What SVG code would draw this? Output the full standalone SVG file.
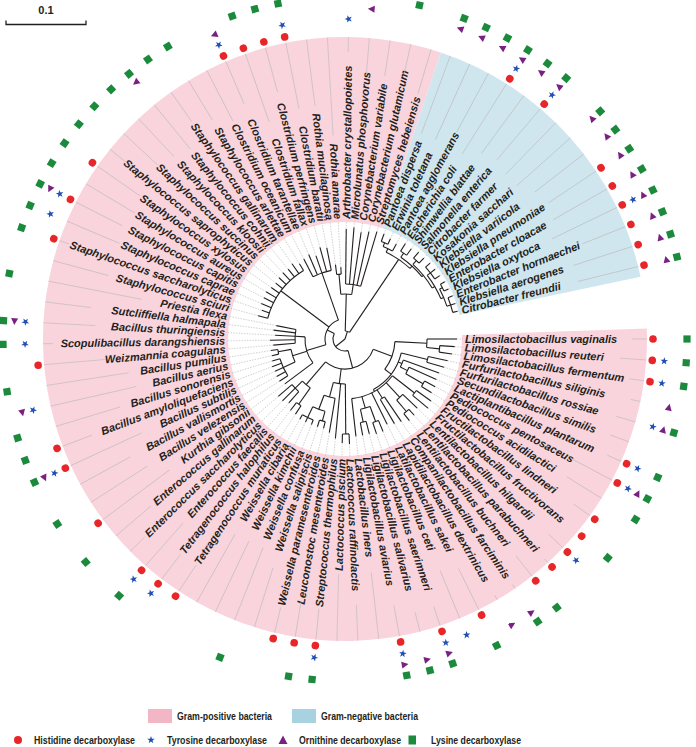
<svg xmlns="http://www.w3.org/2000/svg" width="696" height="747" viewBox="0 0 696 747">
<style>
.lb{font-family:"Liberation Sans",Arial,sans-serif;font-size:11px;font-weight:bold;font-style:italic;fill:#231f20}
.f{text-anchor:end}
.o{stroke:#b9b9b9;stroke-width:0.6}
.d{stroke:#a8a8a8;stroke-width:0.5;stroke-dasharray:1.5 1.2}
.t line,.t circle{stroke:#231f20;stroke-width:1.1;fill:none}
.lg{font-family:"Liberation Sans",Arial,sans-serif;font-size:10.5px;font-weight:bold;fill:#231f20}
</style>
<defs>
<circle id="H" r="3.8" fill="#e8262a"/>
<path id="T" d="M0,-4L0.94,-1.29L3.8,-1.24L1.52,0.49L2.35,3.24L0,1.6L-2.35,3.24L-1.52,0.49L-3.8,-1.24L-0.94,-1.29Z" fill="#1f4fb4"/>
<path id="O" d="M0,-3.8L3.5,3L-3.5,3Z" fill="#7a2082"/>
<rect id="L" x="-3.6" y="-3.6" width="7.2" height="7.2" fill="#1b8a3c"/>
</defs>
<rect width="696" height="747" fill="#fff"/>
<g transform="translate(345,339)">
<path id="gram-pos" d="M301.8,-10.5A302 302 0 1 1 95.8,-286.4L37.1,-111A117 117 0 1 0 116.9,-4.1Z" fill="#f9d4dc"/>
<path id="gram-neg" d="M95.8,-286.4A302 302 0 0 1 295.5,-62.3L114.5,-24.1A117 117 0 0 0 37.1,-111Z" fill="#d0e6ee"/>
<g id="connectors" class="t">
<line x2="12" transform="rotate(141.1)"/>
<circle r="12" pathLength="360" stroke-dasharray="131.71 360" transform="rotate(75.25)"/>
<line x1="12" x2="30" transform="rotate(75.25)"/>
<circle r="30" pathLength="360" stroke-dasharray="110.2 360" transform="rotate(20.15)"/>
<line x1="30" x2="50" transform="rotate(20.15)"/>
<circle r="50" pathLength="360" stroke-dasharray="34.33 360" transform="rotate(2.985)"/>
<line x1="50" x2="82" transform="rotate(2.985)"/>
<circle r="82" pathLength="360" stroke-dasharray="5.97 360"/>
<line x1="82" x2="112"/>
<line x1="82" x2="95" transform="rotate(5.97)"/>
<circle r="95" pathLength="360" stroke-dasharray="3.98 360" transform="rotate(3.98)"/>
<line x1="95" x2="110" transform="rotate(3.98)"/>
<line x1="95" x2="108" transform="rotate(7.96)"/>
<line x1="50" x2="58" transform="rotate(37.31)"/>
<circle r="58" pathLength="360" stroke-dasharray="46.77 360" transform="rotate(13.93)"/>
<line x1="58" x2="85" transform="rotate(13.93)"/>
<circle r="85" pathLength="360" stroke-dasharray="3.98 360" transform="rotate(11.94)"/>
<line x1="85" x2="105" transform="rotate(11.94)"/>
<line x1="85" x2="103" transform="rotate(15.92)"/>
<line x1="58" x2="62" transform="rotate(23.38)"/>
<circle r="62" pathLength="360" stroke-dasharray="6.97 360" transform="rotate(19.9)"/>
<line x1="62" x2="100" transform="rotate(19.9)"/>
<line x1="62" x2="70" transform="rotate(26.865)"/>
<circle r="70" pathLength="360" stroke-dasharray="5.97 360" transform="rotate(23.88)"/>
<line x1="70" x2="100" transform="rotate(23.88)"/>
<line x1="70" x2="90" transform="rotate(29.85)"/>
<circle r="90" pathLength="360" stroke-dasharray="3.98 360" transform="rotate(27.86)"/>
<line x1="90" x2="102" transform="rotate(27.86)"/>
<line x1="90" x2="102" transform="rotate(31.84)"/>
<line x1="58" x2="60" transform="rotate(60.695)"/>
<circle r="60" pathLength="360" stroke-dasharray="45.77 360" transform="rotate(37.81)"/>
<line x1="60" x2="88" transform="rotate(37.81)"/>
<circle r="88" pathLength="360" stroke-dasharray="3.98 360" transform="rotate(35.82)"/>
<line x1="88" x2="106" transform="rotate(35.82)"/>
<line x1="88" x2="108" transform="rotate(39.8)"/>
<line x1="60" x2="80" transform="rotate(46.765)"/>
<circle r="80" pathLength="360" stroke-dasharray="5.97 360" transform="rotate(43.78)"/>
<line x1="80" x2="100" transform="rotate(43.78)"/>
<line x1="80" x2="95" transform="rotate(49.75)"/>
<circle r="95" pathLength="360" stroke-dasharray="3.98 360" transform="rotate(47.76)"/>
<line x1="95" x2="103" transform="rotate(47.76)"/>
<line x1="95" x2="104" transform="rotate(51.74)"/>
<line x1="60" x2="70" transform="rotate(57.71)"/>
<circle r="70" pathLength="360" stroke-dasharray="3.98 360" transform="rotate(55.72)"/>
<line x1="70" x2="100" transform="rotate(55.72)"/>
<line x1="70" x2="98" transform="rotate(59.7)"/>
<line x1="60" x2="95" transform="rotate(63.68)"/>
<line x1="60" x2="72" transform="rotate(73.63)"/>
<circle r="72" pathLength="360" stroke-dasharray="7.96 360" transform="rotate(69.65)"/>
<line x1="72" x2="88" transform="rotate(69.65)"/>
<circle r="88" pathLength="360" stroke-dasharray="3.98 360" transform="rotate(67.66)"/>
<line x1="88" x2="100" transform="rotate(67.66)"/>
<line x1="88" x2="100" transform="rotate(71.64)"/>
<line x1="72" x2="85" transform="rotate(77.61)"/>
<circle r="85" pathLength="360" stroke-dasharray="3.98 360" transform="rotate(75.62)"/>
<line x1="85" x2="98" transform="rotate(75.62)"/>
<line x1="85" x2="98" transform="rotate(79.6)"/>
<line x1="60" x2="98" transform="rotate(83.58)"/>
<line x1="30" x2="45" transform="rotate(97.26)"/>
<circle r="45" pathLength="360" stroke-dasharray="15.42 360" transform="rotate(89.55)"/>
<line x1="45" x2="95" transform="rotate(89.55)"/>
<circle r="95" pathLength="360" stroke-dasharray="3.98 360" transform="rotate(87.56)"/>
<line x1="95" x2="105" transform="rotate(87.56)"/>
<line x1="95" x2="104" transform="rotate(91.54)"/>
<line x1="45" x2="100" transform="rotate(95.52)"/>
<line x1="45" x2="60" transform="rotate(104.97)"/>
<circle r="60" pathLength="360" stroke-dasharray="10.95 360" transform="rotate(99.5)"/>
<line x1="60" x2="95" transform="rotate(99.5)"/>
<line x1="60" x2="75" transform="rotate(110.445)"/>
<circle r="75" pathLength="360" stroke-dasharray="9.95 360" transform="rotate(105.47)"/>
<line x1="75" x2="85" transform="rotate(105.47)"/>
<circle r="85" pathLength="360" stroke-dasharray="3.98 360" transform="rotate(103.48)"/>
<line x1="85" x2="92" transform="rotate(103.48)"/>
<line x1="85" x2="92" transform="rotate(107.46)"/>
<line x1="75" x2="87" transform="rotate(115.42)"/>
<circle r="87" pathLength="360" stroke-dasharray="7.96 360" transform="rotate(111.44)"/>
<line x1="87" x2="92" transform="rotate(111.44)"/>
<line x1="87" x2="92" transform="rotate(115.42)"/>
<line x1="87" x2="92" transform="rotate(119.4)"/>
<line x1="30" x2="60" transform="rotate(130.345)"/>
<circle r="60" pathLength="360" stroke-dasharray="9.95 360" transform="rotate(125.37)"/>
<line x1="60" x2="80" transform="rotate(125.37)"/>
<circle r="80" pathLength="360" stroke-dasharray="3.98 360" transform="rotate(123.38)"/>
<line x1="80" x2="90" transform="rotate(123.38)"/>
<line x1="80" x2="90" transform="rotate(127.36)"/>
<line x1="60" x2="70" transform="rotate(135.32)"/>
<circle r="70" pathLength="360" stroke-dasharray="7.96 360" transform="rotate(131.34)"/>
<line x1="70" x2="85" transform="rotate(131.34)"/>
<line x1="70" x2="88" transform="rotate(135.32)"/>
<line x1="70" x2="88" transform="rotate(139.3)"/>
<line x1="12" x2="20" transform="rotate(206.96)"/>
<circle r="20" pathLength="360" stroke-dasharray="87.56 360" transform="rotate(163.18)"/>
<line x1="20" x2="40" transform="rotate(163.18)"/>
<circle r="40" pathLength="360" stroke-dasharray="39.8 360" transform="rotate(143.28)"/>
<line x1="40" x2="75" transform="rotate(143.28)"/>
<line x1="40" x2="55" transform="rotate(162.185)"/>
<circle r="55" pathLength="360" stroke-dasharray="13.93 360" transform="rotate(155.22)"/>
<line x1="55" x2="68" transform="rotate(155.22)"/>
<circle r="68" pathLength="360" stroke-dasharray="15.92 360" transform="rotate(147.26)"/>
<line x1="68" x2="78" transform="rotate(147.26)"/>
<line x1="68" x2="78" transform="rotate(151.24)"/>
<line x1="68" x2="77" transform="rotate(155.22)"/>
<line x1="68" x2="78" transform="rotate(159.2)"/>
<line x1="68" x2="76" transform="rotate(163.18)"/>
<line x1="55" x2="68" transform="rotate(169.15)"/>
<circle r="68" pathLength="360" stroke-dasharray="3.98 360" transform="rotate(167.16)"/>
<line x1="68" x2="75" transform="rotate(167.16)"/>
<line x1="68" x2="75" transform="rotate(171.14)"/>
<line x1="40" x2="50" transform="rotate(183.08)"/>
<circle r="50" pathLength="360" stroke-dasharray="15.92 360" transform="rotate(175.12)"/>
<line x1="50" x2="72" transform="rotate(175.12)"/>
<line x1="50" x2="75" transform="rotate(179.1)"/>
<line x1="50" x2="70" transform="rotate(183.08)"/>
<line x1="50" x2="72" transform="rotate(187.06)"/>
<line x1="50" x2="70" transform="rotate(191.04)"/>
<line x1="20" x2="80" transform="rotate(216.91)"/>
<circle r="80" pathLength="360" stroke-dasharray="43.78 360" transform="rotate(195.02)"/>
<line x1="80" x2="90" transform="rotate(195.02)"/>
<line x1="80" x2="88" transform="rotate(199)"/>
<line x1="80" x2="91" transform="rotate(202.98)"/>
<line x1="80" x2="91" transform="rotate(206.96)"/>
<line x1="80" x2="92" transform="rotate(210.94)"/>
<line x1="80" x2="90" transform="rotate(214.92)"/>
<line x1="80" x2="89" transform="rotate(218.9)"/>
<line x1="80" x2="90" transform="rotate(222.88)"/>
<line x1="80" x2="91" transform="rotate(226.86)"/>
<line x1="80" x2="90" transform="rotate(230.84)"/>
<line x1="80" x2="92" transform="rotate(234.82)"/>
<line x1="80" x2="88" transform="rotate(238.8)"/>
<line x1="20" x2="70" transform="rotate(250.74)"/>
<circle r="70" pathLength="360" stroke-dasharray="15.92 360" transform="rotate(242.78)"/>
<line x1="70" x2="90" transform="rotate(242.78)"/>
<line x1="70" x2="92" transform="rotate(246.76)"/>
<line x1="70" x2="88" transform="rotate(250.74)"/>
<line x1="70" x2="95" transform="rotate(254.72)"/>
<line x1="70" x2="93" transform="rotate(258.7)"/>
<line x2="8" transform="rotate(287.83)"/>
<circle r="8" pathLength="360" stroke-dasharray="32.39 360" transform="rotate(271.635)"/>
<line x1="8" x2="45" transform="rotate(271.635)"/>
<circle r="45" pathLength="360" stroke-dasharray="13.93 360" transform="rotate(264.67)"/>
<line x1="45" x2="65" transform="rotate(264.67)"/>
<circle r="65" pathLength="360" stroke-dasharray="3.98 360" transform="rotate(262.68)"/>
<line x1="65" x2="75" transform="rotate(262.68)"/>
<line x1="65" x2="72" transform="rotate(266.66)"/>
<line x1="45" x2="55" transform="rotate(278.6)"/>
<circle r="55" pathLength="360" stroke-dasharray="15.92 360" transform="rotate(270.64)"/>
<line x1="55" x2="110" transform="rotate(270.64)"/>
<line x1="55" x2="112" transform="rotate(274.62)"/>
<line x1="55" x2="108" transform="rotate(278.6)"/>
<line x1="55" x2="110" transform="rotate(282.58)"/>
<line x1="55" x2="112" transform="rotate(286.56)"/>
<line x1="8" x2="96" transform="rotate(304.02)"/>
<circle r="96" pathLength="360" stroke-dasharray="17.29 360" transform="rotate(295.375)"/>
<line x1="96" x2="100" transform="rotate(295.375)"/>
<circle r="100" pathLength="360" stroke-dasharray="5.97 360" transform="rotate(292.39)"/>
<line x1="100" x2="104" transform="rotate(292.39)"/>
<circle r="104" pathLength="360" stroke-dasharray="3.98 360" transform="rotate(290.4)"/>
<line x1="104" x2="112" transform="rotate(290.4)"/>
<line x1="104" x2="110" transform="rotate(294.38)"/>
<line x1="100" x2="108" transform="rotate(298.36)"/>
<line x1="96" x2="99" transform="rotate(312.66)"/>
<circle r="99" pathLength="360" stroke-dasharray="16.67 360" transform="rotate(304.33)"/>
<line x1="99" x2="104" transform="rotate(304.33)"/>
<circle r="104" pathLength="360" stroke-dasharray="3.98 360" transform="rotate(302.34)"/>
<line x1="104" x2="113" transform="rotate(302.34)"/>
<line x1="104" x2="112" transform="rotate(306.32)"/>
<line x1="99" x2="101" transform="rotate(320.995)"/>
<circle r="101" pathLength="360" stroke-dasharray="17.41 360" transform="rotate(312.29)"/>
<line x1="101" x2="106" transform="rotate(312.29)"/>
<circle r="106" pathLength="360" stroke-dasharray="3.98 360" transform="rotate(310.3)"/>
<line x1="106" x2="114" transform="rotate(310.3)"/>
<line x1="106" x2="113" transform="rotate(314.28)"/>
<line x1="101" x2="104" transform="rotate(329.7)"/>
<circle r="104" pathLength="360" stroke-dasharray="14.93 360" transform="rotate(322.24)"/>
<line x1="104" x2="108" transform="rotate(322.24)"/>
<circle r="108" pathLength="360" stroke-dasharray="7.96 360" transform="rotate(318.26)"/>
<line x1="108" x2="114" transform="rotate(318.26)"/>
<line x1="108" x2="114" transform="rotate(322.24)"/>
<line x1="108" x2="114" transform="rotate(326.22)"/>
<line x1="104" x2="107" transform="rotate(337.165)"/>
<circle r="107" pathLength="360" stroke-dasharray="9.95 360" transform="rotate(332.19)"/>
<line x1="107" x2="110" transform="rotate(332.19)"/>
<circle r="110" pathLength="360" stroke-dasharray="3.98 360" transform="rotate(330.2)"/>
<line x1="110" x2="115" transform="rotate(330.2)"/>
<line x1="110" x2="115" transform="rotate(334.18)"/>
<line x1="107" x2="111" transform="rotate(342.14)"/>
<circle r="111" pathLength="360" stroke-dasharray="7.96 360" transform="rotate(338.16)"/>
<line x1="111" x2="116" transform="rotate(338.16)"/>
<line x1="111" x2="116" transform="rotate(342.14)"/>
<line x1="111" x2="116" transform="rotate(346.12)"/>
</g>
<g id="p0" transform="rotate(0)"><line class="d" x1="112" x2="118"/><text class="lb" x="120" dy=".35em">Limosilactobacillus vaginalis</text><line class="o" x1="287" x2="302"/><use href="#H" x="308"/><use href="#L" x="342"/></g>
<g id="p1" transform="rotate(3.98)"><line class="d" x1="110" x2="118"/><text class="lb" x="120" dy=".35em">Limosilactobacillus reuteri</text><line class="o" x1="276" x2="302"/><use href="#H" x="308"/><use href="#T" x="320"/><use href="#L" x="342"/></g>
<g id="p2" transform="rotate(7.96)"><line class="d" x1="108" x2="118"/><text class="lb" x="120" dy=".35em">Limosilactobacillus fermentum</text><line class="o" x1="287" x2="302"/><use href="#H" x="308"/><use href="#T" x="320"/><use href="#L" x="342"/></g>
<g id="p3" transform="rotate(11.94)"><line class="d" x1="105" x2="118"/><text class="lb" x="120" dy=".35em">Furfurilactobacillus siliginis</text><line class="o" x1="292" x2="302"/><use href="#O" x="331"/></g>
<g id="p4" transform="rotate(15.92)"><line class="d" x1="103" x2="118"/><text class="lb" x="120" dy=".35em">Furfurilactobacillus rossiae</text><line class="o" x1="282" x2="302"/><use href="#T" x="320"/><use href="#O" x="331"/><use href="#L" x="342"/></g>
<g id="p5" transform="rotate(19.9)"><line class="d" x1="100" x2="118"/><text class="lb" x="120" dy=".35em">Secundilactobacillus similis</text><line class="o" x1="282" x2="302"/></g>
<g id="p6" transform="rotate(23.88)"><line class="d" x1="100" x2="118"/><text class="lb" x="120" dy=".35em">Lactiplantibacillus plantarum</text><line class="o" x1="287" x2="302"/><use href="#H" x="308"/><use href="#T" x="320"/><use href="#L" x="342"/></g>
<g id="p7" transform="rotate(27.86)"><line class="d" x1="102" x2="118"/><text class="lb" x="120" dy=".35em">Pediococcus pentosaceus</text><line class="o" x1="256" x2="302"/><use href="#H" x="308"/><use href="#T" x="320"/><use href="#O" x="331"/><use href="#L" x="342"/></g>
<g id="p8" transform="rotate(31.84)"><line class="d" x1="102" x2="118"/><text class="lb" x="120" dy=".35em">Pediococcus acidilactici</text><line class="o" x1="261" x2="302"/><use href="#L" x="342"/></g>
<g id="p9" transform="rotate(35.82)"><line class="d" x1="106" x2="118"/><text class="lb" x="120" dy=".35em">Fructilactobacillus lindneri</text><line class="o" x1="282" x2="302"/><use href="#H" x="308"/></g>
<g id="p10" transform="rotate(39.8)"><line class="d" x1="108" x2="118"/><text class="lb" x="120" dy=".35em">Fructilactobacillus fructivorans</text><use href="#H" x="308"/><use href="#L" x="342"/></g>
<g id="p11" transform="rotate(43.78)"><line class="d" x1="100" x2="118"/><text class="lb" x="120" dy=".35em">Lentilactobacillus hilgardii</text><line class="o" x1="282" x2="302"/><use href="#H" x="308"/><use href="#T" x="320"/></g>
<g id="p12" transform="rotate(47.76)"><line class="d" x1="103" x2="118"/><text class="lb" x="120" dy=".35em">Lentilactobacillus parabuchneri</text><line class="o" x1="297" x2="302"/><use href="#H" x="308"/></g>
<g id="p13" transform="rotate(51.74)"><line class="d" x1="104" x2="118"/><text class="lb" x="120" dy=".35em">Lentilactobacillus buchneri</text><line class="o" x1="276" x2="302"/><use href="#H" x="308"/><use href="#L" x="342"/></g>
<g id="p14" transform="rotate(55.72)"><line class="d" x1="100" x2="118"/><text class="lb" x="120" dy=".35em">Companilactobacillus farciminis</text><line class="o" x1="297" x2="302"/><use href="#O" x="331"/><use href="#L" x="342"/></g>
<g id="p15" transform="rotate(59.7)"><line class="d" x1="98" x2="118"/><text class="lb" x="120" dy=".35em">Lapidilactobacillus dextrinicus</text><line class="o" x1="297" x2="302"/><use href="#O" x="331"/></g>
<g id="p16" transform="rotate(63.68)"><line class="d" x1="95" x2="118"/><text class="lb" x="120" dy=".35em">Latilactobacillus sakei</text><line class="o" x1="256" x2="302"/><use href="#H" x="308"/><use href="#L" x="342"/></g>
<g id="p17" transform="rotate(67.66)"><line class="d" x1="100" x2="118"/><text class="lb" x="120" dy=".35em">Ligilactobacillus ceti</text><line class="o" x1="250" x2="302"/><use href="#T" x="320"/></g>
<g id="p18" transform="rotate(71.64)"><line class="d" x1="100" x2="118"/><text class="lb" x="120" dy=".35em">Ligilactobacillus saerimneri</text><line class="o" x1="282" x2="302"/><use href="#H" x="308"/><use href="#T" x="320"/><use href="#O" x="331"/><use href="#L" x="342"/></g>
<g id="p19" transform="rotate(75.62)"><line class="d" x1="98" x2="118"/><text class="lb" x="120" dy=".35em">Ligilactobacillus salivarius</text><line class="o" x1="282" x2="302"/><use href="#O" x="331"/><use href="#L" x="342"/></g>
<g id="p20" transform="rotate(79.6)"><line class="d" x1="98" x2="118"/><text class="lb" x="120" dy=".35em">Ligilactobacillus aviarius</text><line class="o" x1="271" x2="302"/><use href="#H" x="308"/><use href="#T" x="320"/><use href="#O" x="331"/><use href="#L" x="342"/></g>
<g id="p21" transform="rotate(83.58)"><line class="d" x1="98" x2="118"/><text class="lb" x="120" dy=".35em">Lactobacillus iners</text><line class="o" x1="235" x2="302"/></g>
<g id="p22" transform="rotate(87.56)"><line class="d" x1="105" x2="118"/><text class="lb" x="120" dy=".35em">Lactococcus raffinolactis</text><line class="o" x1="266" x2="302"/></g>
<g id="p23" transform="rotate(91.54)"><line class="d" x1="104" x2="118"/><text class="lb f" transform="rotate(180)" x="-120" dy=".35em">Lactococcus piscium</text><line class="o" x1="235" x2="302"/></g>
<g id="p24" transform="rotate(95.52)"><line class="d" x1="100" x2="118"/><text class="lb f" transform="rotate(180)" x="-120" dy=".35em">Streptococcus thermophilus</text><line class="o" x1="271" x2="302"/><use href="#H" x="308"/><use href="#T" x="320"/><use href="#L" x="342"/></g>
<g id="p25" transform="rotate(99.5)"><line class="d" x1="95" x2="118"/><text class="lb f" transform="rotate(180)" x="-120" dy=".35em">Leuconostoc mesenteroides</text><line class="o" x1="266" x2="302"/><use href="#H" x="308"/><use href="#L" x="342"/></g>
<g id="p26" transform="rotate(103.48)"><line class="d" x1="92" x2="118"/><text class="lb f" transform="rotate(180)" x="-120" dy=".35em">Weissella paramesenteroides</text><line class="o" x1="276" x2="302"/><use href="#H" x="308"/></g>
<g id="p27" transform="rotate(107.46)"><line class="d" x1="92" x2="118"/><text class="lb f" transform="rotate(180)" x="-120" dy=".35em">Weissella salipiscis</text><line class="o" x1="240" x2="302"/></g>
<g id="p28" transform="rotate(111.44)"><line class="d" x1="92" x2="118"/><text class="lb f" transform="rotate(180)" x="-120" dy=".35em">Weissella confusa</text><line class="o" x1="224" x2="302"/><use href="#L" x="342"/></g>
<g id="p29" transform="rotate(115.42)"><line class="d" x1="92" x2="118"/><text class="lb f" transform="rotate(180)" x="-120" dy=".35em">Weissella kimchii</text><line class="o" x1="224" x2="302"/></g>
<g id="p30" transform="rotate(119.4)"><line class="d" x1="92" x2="118"/><text class="lb f" transform="rotate(180)" x="-120" dy=".35em">Weissella cibaria</text><line class="o" x1="224" x2="302"/></g>
<g id="p31" transform="rotate(123.38)"><line class="d" x1="90" x2="118"/><text class="lb f" transform="rotate(180)" x="-120" dy=".35em">Tetragenococcus muriaticus</text><line class="o" x1="271" x2="302"/><use href="#H" x="308"/></g>
<g id="p32" transform="rotate(127.36)"><line class="d" x1="90" x2="118"/><text class="lb f" transform="rotate(180)" x="-120" dy=".35em">Tetragenococcus halophilus</text><line class="o" x1="271" x2="302"/><use href="#H" x="308"/><use href="#T" x="320"/></g>
<g id="p33" transform="rotate(131.34)"><line class="d" x1="85" x2="118"/><text class="lb f" transform="rotate(180)" x="-120" dy=".35em">Enterococcus faecalis</text><line class="o" x1="245" x2="302"/><use href="#H" x="308"/><use href="#T" x="320"/><use href="#L" x="342"/></g>
<g id="p34" transform="rotate(135.32)"><line class="d" x1="88" x2="118"/><text class="lb f" transform="rotate(180)" x="-120" dy=".35em">Enterococcus saccharolyticus</text><line class="o" x1="282" x2="302"/></g>
<g id="p35" transform="rotate(139.3)"><line class="d" x1="88" x2="118"/><text class="lb f" transform="rotate(180)" x="-120" dy=".35em">Enterococcus gallinarum</text><line class="o" x1="256" x2="302"/><use href="#L" x="342"/></g>
<g id="p36" transform="rotate(143.28)"><line class="d" x1="75" x2="118"/><text class="lb f" transform="rotate(180)" x="-120" dy=".35em">Kurthia gibsonii</text><line class="o" x1="219" x2="302"/><use href="#H" x="308"/></g>
<g id="p37" transform="rotate(147.26)"><line class="d" x1="78" x2="118"/><text class="lb f" transform="rotate(180)" x="-120" dy=".35em">Bacillus velezensis</text><line class="o" x1="235" x2="302"/><use href="#L" x="342"/></g>
<g id="p38" transform="rotate(151.24)"><line class="d" x1="78" x2="118"/><text class="lb f" transform="rotate(180)" x="-120" dy=".35em">Bacillus vallismortis</text><line class="o" x1="245" x2="302"/></g>
<g id="p39" transform="rotate(155.22)"><line class="d" x1="77" x2="118"/><text class="lb f" transform="rotate(180)" x="-120" dy=".35em">Bacillus subtilis</text><line class="o" x1="224" x2="302"/><use href="#H" x="308"/><use href="#T" x="320"/><use href="#O" x="331"/><use href="#L" x="342"/></g>
<g id="p40" transform="rotate(159.2)"><line class="d" x1="78" x2="118"/><text class="lb f" transform="rotate(180)" x="-120" dy=".35em">Bacillus amyloliquefaciens</text><line class="o" x1="271" x2="302"/><use href="#H" x="308"/><use href="#L" x="342"/></g>
<g id="p41" transform="rotate(163.18)"><line class="d" x1="76" x2="118"/><text class="lb f" transform="rotate(180)" x="-120" dy=".35em">Bacillus sonorensis</text><line class="o" x1="235" x2="302"/><use href="#L" x="342"/></g>
<g id="p42" transform="rotate(167.16)"><line class="d" x1="75" x2="118"/><text class="lb f" transform="rotate(180)" x="-120" dy=".35em">Bacillus aerius</text><line class="o" x1="214" x2="302"/><use href="#T" x="320"/><use href="#O" x="331"/></g>
<g id="p43" transform="rotate(171.14)"><line class="d" x1="75" x2="118"/><text class="lb f" transform="rotate(180)" x="-120" dy=".35em">Bacillus pumilus</text><line class="o" x1="219" x2="302"/><use href="#L" x="342"/></g>
<g id="p44" transform="rotate(175.12)"><line class="d" x1="72" x2="118"/><text class="lb f" transform="rotate(180)" x="-120" dy=".35em">Weizmannia coagulans</text><line class="o" x1="240" x2="302"/><use href="#H" x="308"/></g>
<g id="p45" transform="rotate(179.1)"><line class="d" x1="75" x2="118"/><text class="lb f" transform="rotate(180)" x="-120" dy=".35em">Scopulibacillus darangshiensis</text><line class="o" x1="292" x2="302"/><use href="#T" x="320"/><use href="#L" x="342"/></g>
<g id="p46" transform="rotate(183.08)"><line class="d" x1="70" x2="118"/><text class="lb f" transform="rotate(180)" x="-120" dy=".35em">Bacillus thuringiensis</text><line class="o" x1="250" x2="302"/><use href="#T" x="320"/><use href="#O" x="331"/><use href="#L" x="342"/></g>
<g id="p47" transform="rotate(187.06)"><line class="d" x1="72" x2="118"/><text class="lb f" transform="rotate(180)" x="-120" dy=".35em">Sutcliffiella halmapala</text><line class="o" x1="256" x2="302"/></g>
<g id="p48" transform="rotate(191.04)"><line class="d" x1="70" x2="118"/><text class="lb f" transform="rotate(180)" x="-120" dy=".35em">Priestia flexa</text><line class="o" x1="207" x2="302"/><use href="#L" x="342"/></g>
<g id="p49" transform="rotate(195.02)"><line class="d" x1="90" x2="118"/><text class="lb f" transform="rotate(180)" x="-120" dy=".35em">Staphylococcus sciuri</text><line class="o" x1="245" x2="302"/></g>
<g id="p50" transform="rotate(199)"><line class="d" x1="88" x2="118"/><text class="lb f" transform="rotate(180)" x="-120" dy=".35em">Staphylococcus saccharolyticus</text><line class="o" x1="292" x2="302"/><use href="#H" x="308"/><use href="#L" x="342"/></g>
<g id="p51" transform="rotate(202.98)"><line class="d" x1="91" x2="118"/><text class="lb f" transform="rotate(180)" x="-120" dy=".35em">Staphylococcus caprae</text><line class="o" x1="245" x2="302"/><use href="#T" x="320"/><use href="#L" x="342"/></g>
<g id="p52" transform="rotate(206.96)"><line class="d" x1="91" x2="118"/><text class="lb f" transform="rotate(180)" x="-120" dy=".35em">Staphylococcus capitis</text><line class="o" x1="250" x2="302"/><use href="#H" x="308"/><use href="#T" x="320"/><use href="#O" x="331"/><use href="#L" x="342"/></g>
<g id="p53" transform="rotate(210.94)"><line class="d" x1="92" x2="118"/><text class="lb f" transform="rotate(180)" x="-120" dy=".35em">Staphylococcus aureus</text><line class="o" x1="245" x2="302"/><use href="#L" x="342"/></g>
<g id="p54" transform="rotate(214.92)"><line class="d" x1="90" x2="118"/><text class="lb f" transform="rotate(180)" x="-120" dy=".35em">Staphylococcus xylosus</text><line class="o" x1="250" x2="302"/><use href="#H" x="308"/><use href="#L" x="342"/></g>
<g id="p55" transform="rotate(218.9)"><line class="d" x1="89" x2="118"/><text class="lb f" transform="rotate(180)" x="-120" dy=".35em">Staphylococcus saprophyticus</text><line class="o" x1="282" x2="302"/><use href="#L" x="342"/></g>
<g id="p56" transform="rotate(222.88)"><line class="d" x1="90" x2="118"/><text class="lb f" transform="rotate(180)" x="-120" dy=".35em">Staphylococcus succinus</text><line class="o" x1="256" x2="302"/><use href="#L" x="342"/></g>
<g id="p57" transform="rotate(226.86)"><line class="d" x1="91" x2="118"/><text class="lb f" transform="rotate(180)" x="-120" dy=".35em">Staphylococcus kloosii</text><line class="o" x1="250" x2="302"/><use href="#L" x="342"/></g>
<g id="p58" transform="rotate(230.84)"><line class="d" x1="90" x2="118"/><text class="lb f" transform="rotate(180)" x="-120" dy=".35em">Staphylococcus cohnii</text><line class="o" x1="245" x2="302"/><use href="#O" x="331"/><use href="#L" x="342"/></g>
<g id="p59" transform="rotate(234.82)"><line class="d" x1="92" x2="118"/><text class="lb f" transform="rotate(180)" x="-120" dy=".35em">Staphylococcus gallinarum</text><line class="o" x1="266" x2="302"/><use href="#L" x="342"/></g>
<g id="p60" transform="rotate(238.8)"><line class="d" x1="88" x2="118"/><text class="lb f" transform="rotate(180)" x="-120" dy=".35em">Staphylococcus arlettae</text><line class="o" x1="256" x2="302"/><use href="#L" x="342"/></g>
<g id="p61" transform="rotate(242.78)"><line class="d" x1="90" x2="118"/><text class="lb f" transform="rotate(180)" x="-120" dy=".35em">Clostridium oceanicum</text><line class="o" x1="245" x2="302"/></g>
<g id="p62" transform="rotate(246.76)"><line class="d" x1="92" x2="118"/><text class="lb f" transform="rotate(180)" x="-120" dy=".35em">Clostridium tarantellae</text><line class="o" x1="256" x2="302"/><use href="#H" x="308"/><use href="#T" x="320"/><use href="#O" x="331"/></g>
<g id="p63" transform="rotate(250.74)"><line class="d" x1="88" x2="118"/><text class="lb f" transform="rotate(180)" x="-120" dy=".35em">Clostridium fallax</text><line class="o" x1="230" x2="302"/><use href="#H" x="308"/><use href="#L" x="342"/></g>
<g id="p64" transform="rotate(254.72)"><line class="d" x1="95" x2="118"/><text class="lb f" transform="rotate(180)" x="-120" dy=".35em">Clostridium perfringens</text><line class="o" x1="256" x2="302"/><use href="#H" x="308"/><use href="#L" x="342"/></g>
<g id="p65" transform="rotate(258.7)"><line class="d" x1="93" x2="118"/><text class="lb f" transform="rotate(180)" x="-120" dy=".35em">Clostridium baratii</text><line class="o" x1="235" x2="302"/><use href="#H" x="308"/><use href="#T" x="320"/><use href="#L" x="342"/></g>
<g id="p66" transform="rotate(262.68)"><line class="d" x1="75" x2="118"/><text class="lb f" transform="rotate(180)" x="-120" dy=".35em">Rothia mucilaginosa</text><line class="o" x1="235" x2="302"/></g>
<g id="p67" transform="rotate(266.66)"><line class="d" x1="72" x2="118"/><text class="lb f" transform="rotate(180)" x="-120" dy=".35em">Rothia amarae</text><line class="o" x1="204" x2="302"/></g>
<g id="p68" transform="rotate(270.64)"><line class="d" x1="110" x2="118"/><text class="lb" x="120" dy=".35em">Arthrobacter crystallopoietes</text><line class="o" x1="287" x2="302"/><use href="#T" x="320"/></g>
<g id="p69" transform="rotate(274.62)"><line class="d" x1="112" x2="118"/><text class="lb" x="120" dy=".35em">Microlunatus phosphovorus</text><line class="o" x1="266" x2="302"/><use href="#O" x="331"/></g>
<g id="p70" transform="rotate(278.6)"><line class="d" x1="108" x2="118"/><text class="lb" x="120" dy=".35em">Corynebacterium variabile</text><line class="o" x1="266" x2="302"/></g>
<g id="p71" transform="rotate(282.58)"><line class="d" x1="110" x2="118"/><text class="lb" x="120" dy=".35em">Corynebacterium glutamicum</text><line class="o" x1="271" x2="302"/><use href="#L" x="342"/></g>
<g id="p72" transform="rotate(286.56)"><line class="d" x1="112" x2="118"/><text class="lb" x="120" dy=".35em">Streptomyces hebeiensis</text><line class="o" x1="256" x2="302"/></g>
<g id="n0" transform="rotate(290.4)"><line class="d" x1="112" x2="118"/><text class="lb" x="120" dy=".35em">Pantoea dispersa</text><line class="o" x1="219" x2="302"/><use href="#O" x="331"/><use href="#L" x="342"/></g>
<g id="n1" transform="rotate(294.38)"><line class="d" x1="110" x2="118"/><text class="lb" x="120" dy=".35em">Erwinia toletana</text><line class="o" x1="219" x2="302"/><use href="#O" x="331"/><use href="#L" x="342"/></g>
<g id="n2" transform="rotate(298.36)"><line class="d" x1="108" x2="118"/><text class="lb" x="120" dy=".35em">Pantoea agglomerans</text><line class="o" x1="235" x2="302"/><use href="#O" x="331"/><use href="#L" x="342"/></g>
<g id="n3" transform="rotate(302.34)"><line class="d" x1="113" x2="118"/><text class="lb" x="120" dy=".35em">Escherichia coli</text><line class="o" x1="219" x2="302"/><use href="#H" x="308"/><use href="#T" x="320"/><use href="#O" x="331"/><use href="#L" x="342"/></g>
<g id="n4" transform="rotate(306.32)"><line class="d" x1="112" x2="118"/><text class="lb" x="120" dy=".35em">Shimwellia blattae</text><line class="o" x1="230" x2="302"/><use href="#O" x="331"/><use href="#L" x="342"/></g>
<g id="n5" transform="rotate(310.3)"><line class="d" x1="114" x2="118"/><text class="lb" x="120" dy=".35em">Salmonella enterica</text><line class="o" x1="235" x2="302"/><use href="#H" x="308"/><use href="#T" x="320"/><use href="#O" x="331"/><use href="#L" x="342"/></g>
<g id="n6" transform="rotate(314.28)"><line class="d" x1="113" x2="118"/><text class="lb" x="120" dy=".35em">Citrobacter farmer</text><line class="o" x1="230" x2="302"/></g>
<g id="n7" transform="rotate(318.26)"><line class="d" x1="114" x2="118"/><text class="lb" x="120" dy=".35em">Kosakonia sacchari</text><line class="o" x1="230" x2="302"/><use href="#O" x="331"/><use href="#L" x="342"/></g>
<g id="n8" transform="rotate(322.24)"><line class="d" x1="114" x2="118"/><text class="lb" x="120" dy=".35em">Klebsiella variicola</text><line class="o" x1="240" x2="302"/><use href="#O" x="331"/><use href="#L" x="342"/></g>
<g id="n9" transform="rotate(326.22)"><line class="d" x1="114" x2="118"/><text class="lb" x="120" dy=".35em">Klebsiella pneumoniae</text><line class="o" x1="245" x2="302"/><use href="#H" x="308"/><use href="#O" x="331"/><use href="#L" x="342"/></g>
<g id="n10" transform="rotate(330.2)"><line class="d" x1="115" x2="118"/><text class="lb" x="120" dy=".35em">Enterobacter cloacae</text><line class="o" x1="240" x2="302"/><use href="#H" x="308"/><use href="#O" x="331"/><use href="#L" x="342"/></g>
<g id="n11" transform="rotate(334.18)"><line class="d" x1="115" x2="118"/><text class="lb" x="120" dy=".35em">Klebsiella oxytoca</text><line class="o" x1="230" x2="302"/><use href="#H" x="308"/><use href="#T" x="320"/><use href="#O" x="331"/><use href="#L" x="342"/></g>
<g id="n12" transform="rotate(338.16)"><line class="d" x1="116" x2="118"/><text class="lb" x="120" dy=".35em">Enterobacter hormaechei</text><line class="o" x1="256" x2="302"/><use href="#H" x="308"/><use href="#O" x="331"/><use href="#L" x="342"/></g>
<g id="n13" transform="rotate(342.14)"><line class="d" x1="116" x2="118"/><text class="lb" x="120" dy=".35em">Klebsiella aerogenes</text><line class="o" x1="240" x2="302"/><use href="#H" x="308"/><use href="#O" x="331"/><use href="#L" x="342"/></g>
<g id="n14" transform="rotate(346.12)"><line class="d" x1="116" x2="118"/><text class="lb" x="120" dy=".35em">Citrobacter freundii</text><line class="o" x1="240" x2="302"/><use href="#H" x="308"/><use href="#O" x="331"/><use href="#L" x="342"/></g>
</g>
<g id="scale-bar"><path d="M6,20.5V24.5H86V20.5" fill="none" stroke="#231f20" stroke-width="1.3"/><text x="46" y="13.5" text-anchor="middle" class="lg" style="font-size:11px">0.1</text></g>
<g id="legend">
<rect x="148" y="709" width="24" height="14" fill="#f2b6c4"/><text class="lg" x="177" y="719.5" textLength="95" lengthAdjust="spacingAndGlyphs">Gram-positive bacteria</text>
<rect x="292" y="709" width="24" height="14" fill="#a8d2df"/><text class="lg" x="321" y="719.5" textLength="97" lengthAdjust="spacingAndGlyphs">Gram-negative bacteria</text>
<circle cx="18" cy="740" r="4" fill="#e8262a"/><text class="lg" x="34" y="743.5" textLength="101" lengthAdjust="spacingAndGlyphs">Histidine decarboxylase</text>
<use href="#T" transform="translate(151,740)"/><text class="lg" x="167" y="743.5" textLength="100" lengthAdjust="spacingAndGlyphs">Tyrosine decarboxylase</text>
<path d="M283,735.5L287.5,744H278.5Z" fill="#7a2082"/><text class="lg" x="299" y="743.5" textLength="102" lengthAdjust="spacingAndGlyphs">Ornithine decarboxylase</text>
<rect x="408.5" y="735.5" width="7.5" height="9" fill="#1b8a3c"/><text class="lg" x="431" y="743.5" textLength="90" lengthAdjust="spacingAndGlyphs">Lysine decarboxylase</text>
</g>
</svg>
